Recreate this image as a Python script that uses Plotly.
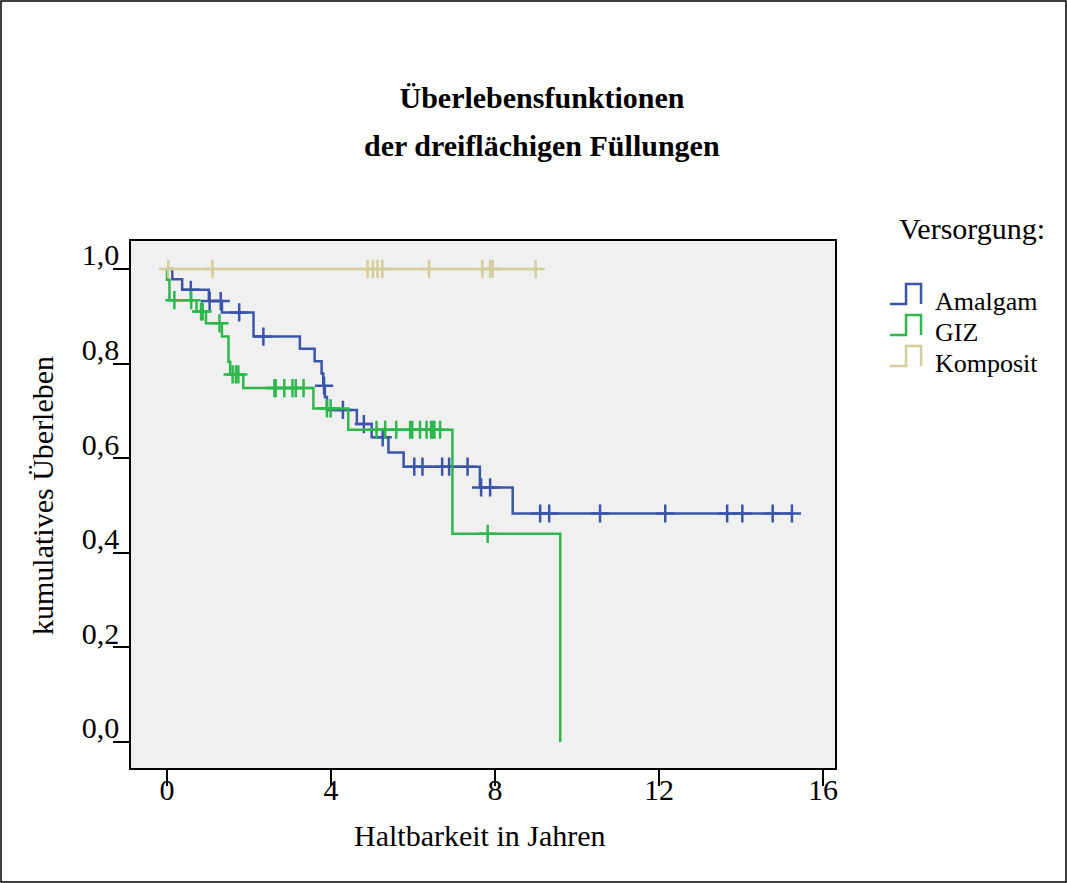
import plotly.graph_objects as go

# ---------------- data ----------------
series_names = ["Amalgam", "GIZ", "Komposit"]
series_colors = ["#3B55A8", "#2EB84C", "#D4CD9C"]

# Kaplan-Meier event steps (time in years, survival after the event)
amalgam_t = [0.0, 0.13, 0.37, 1.02, 1.34, 2.11, 3.24, 3.60, 3.77, 3.81, 3.85, 3.90,
             4.63, 4.99, 5.40, 5.77, 7.63, 8.43, 15.24]
amalgam_s = [1.0, 0.978, 0.956, 0.932, 0.908, 0.857, 0.831, 0.805, 0.779, 0.753, 0.729, 0.702,
             0.672, 0.644, 0.612, 0.582, 0.538, 0.483, 0.483]
amalgam_censored = [0.58, 1.04, 1.31, 1.76, 2.35, 3.83, 4.29, 4.80, 5.26, 6.03, 6.23, 6.71,
                    6.88, 7.33, 7.66, 7.88, 9.10, 9.32, 10.56, 12.15, 13.66, 14.03, 14.77, 15.24]

giz_t = [0.0, 0.0, 0.06, 0.72, 0.95, 1.34, 1.50, 1.54, 1.86, 3.57, 4.42, 6.96, 9.59]
giz_s = [1.0, 0.977, 0.934, 0.910, 0.885, 0.857, 0.804, 0.777, 0.748, 0.705, 0.660, 0.440, 0.0]
giz_censored = [0.18, 0.59, 0.83, 0.87, 1.28, 1.60, 1.68, 1.74, 2.62, 2.65, 2.86, 3.06, 3.14,
                3.33, 3.90, 3.99, 5.11, 5.32, 5.59, 5.93, 5.98, 6.17, 6.33, 6.44, 6.48, 6.52,
                6.66, 7.82]

komposit_t = [0.0, 8.99]
komposit_s = [1.0, 1.0]
komposit_censored = [0.03, 1.11, 4.89, 5.02, 5.13, 5.25, 6.39, 7.69, 7.88, 7.94, 8.99]

x_ticks = [0, 4, 8, 12, 16]
x_ticklabels = ["0", "4", "8", "12", "16"]
y_ticks = [0.0, 0.2, 0.4, 0.6, 0.8, 1.0]
y_ticklabels = ["0,0", "0,2", "0,4", "0,6", "0,8", "1,0"]

title_line1 = "Überlebensfunktionen"
title_line2 = "der dreiflächigen Füllungen"
x_title = "Haltbarkeit in Jahren"
y_title = "kumulatives Überleben"
legend_title = "Versorgung:"

# ---------------- helpers ----------------
W, H = 1067, 883
ML, MR, MT, MB = 131, 232, 241, 115
PW, PH = W - ML - MR, H - MT - MB


def px(xp):
    return (xp - ML) / PW


def py(yp):
    return (H - MB - yp) / PH


def surv_at(ts, ss, t):
    val = ss[0]
    for ti, si in zip(ts, ss):
        if ti <= t:
            val = si
    return val


FONT = "Liberation Serif, Times New Roman, serif"
FS = 30
FS_LEG = 26

fig = go.Figure()

series = [
    (amalgam_t, amalgam_s, amalgam_censored),
    (giz_t, giz_s, giz_censored),
    (komposit_t, komposit_s, komposit_censored),
]

for name, color, (ts, ss, cens) in zip(series_names, series_colors, series):
    fig.add_trace(go.Scatter(
        x=ts, y=ss, mode="lines", line=dict(color=color, width=2.5, shape="hv"),
        name=name, showlegend=False, hoverinfo="skip"))
    fig.add_trace(go.Scatter(
        x=cens, y=[surv_at(ts, ss, c) for c in cens], mode="markers",
        marker=dict(symbol="cross-thin", size=13, line=dict(color=color, width=2.5)),
        name=name + " zensiert", showlegend=False, hoverinfo="skip"))

fig.update_layout(
    width=W, height=H,
    margin=dict(l=ML, r=MR, t=MT, b=MB, autoexpand=False),
    paper_bgcolor="white", plot_bgcolor="#F0F0F0",
    font=dict(family=FONT, size=FS, color="black"),
    title=dict(text="<b>" + title_line1 + "</b>", x=542 / W,
               xanchor="center", y=(H - 97) / H, yanchor="middle",
               font=dict(family=FONT, size=FS, color="black")),
    showlegend=False,
)

fig.update_xaxes(
    range=[-0.878, 16.29], tickvals=x_ticks, ticktext=x_ticklabels,
    ticks="outside", ticklen=16, tickwidth=2, tickcolor="black",
    showgrid=False, zeroline=False, showline=True, linecolor="black", linewidth=1.5,
    mirror=True, ticklabelstandoff=-22, tickfont=dict(family=FONT, size=FS),
)
fig.update_yaxes(
    range=[-0.055, 1.059], tickvals=y_ticks, ticktext=y_ticklabels,
    ticks="outside", ticklen=16, tickwidth=2, tickcolor="black",
    showgrid=False, zeroline=False, showline=True, linecolor="black", linewidth=1.5,
    mirror=True, ticklabelstandoff=-12, ticklabelshift=-14,
    tickfont=dict(family=FONT, size=FS),
)

annotations = [
    dict(text="<b>" + title_line2 + "</b>", x=px(542), y=py(145), xref="paper", yref="paper",
         xanchor="center", yanchor="middle", showarrow=False, font=dict(size=FS)),
    dict(text=x_title, x=px(480), y=py(835), xref="paper", yref="paper",
         xanchor="center", yanchor="middle", showarrow=False, font=dict(size=FS)),
    dict(text=y_title, x=px(42), y=py(495), xref="paper", yref="paper", textangle=-90,
         xanchor="center", yanchor="middle", showarrow=False, font=dict(size=FS)),
    dict(text=legend_title, x=px(972), y=py(228), xref="paper", yref="paper",
         xanchor="center", yanchor="middle", showarrow=False, font=dict(size=FS)),
]

shapes = []
legend_rows = [301, 332, 363]
for name, color, yc in zip(series_names, series_colors, legend_rows):
    annotations.append(dict(text=name, x=px(933), y=py(yc), xref="paper", yref="paper",
                            xanchor="left", yanchor="middle", showarrow=False,
                            font=dict(size=FS_LEG)))
    yb, yt = yc + 3, yc - 17
    path = "M {:.4f},{:.4f} L {:.4f},{:.4f} L {:.4f},{:.4f} L {:.4f},{:.4f} L {:.4f},{:.4f}".format(
        px(890), py(yb), px(906), py(yb), px(906), py(yt), px(921), py(yt), px(921), py(yb))
    shapes.append(dict(type="path", path=path, xref="paper", yref="paper",
                       line=dict(color=color, width=2.5)))

# outer frame
shapes.append(dict(type="rect", xref="paper", yref="paper",
                   x0=px(1), y0=py(H - 1), x1=px(W - 1), y1=py(1),
                   line=dict(color="black", width=1.5)))

fig.update_layout(annotations=annotations, shapes=shapes)

fig.write_html(
    "out.html",
    config={"displayModeBar": False},
    post_script="document.body.style.margin='0';document.body.style.overflow='hidden';",
)
